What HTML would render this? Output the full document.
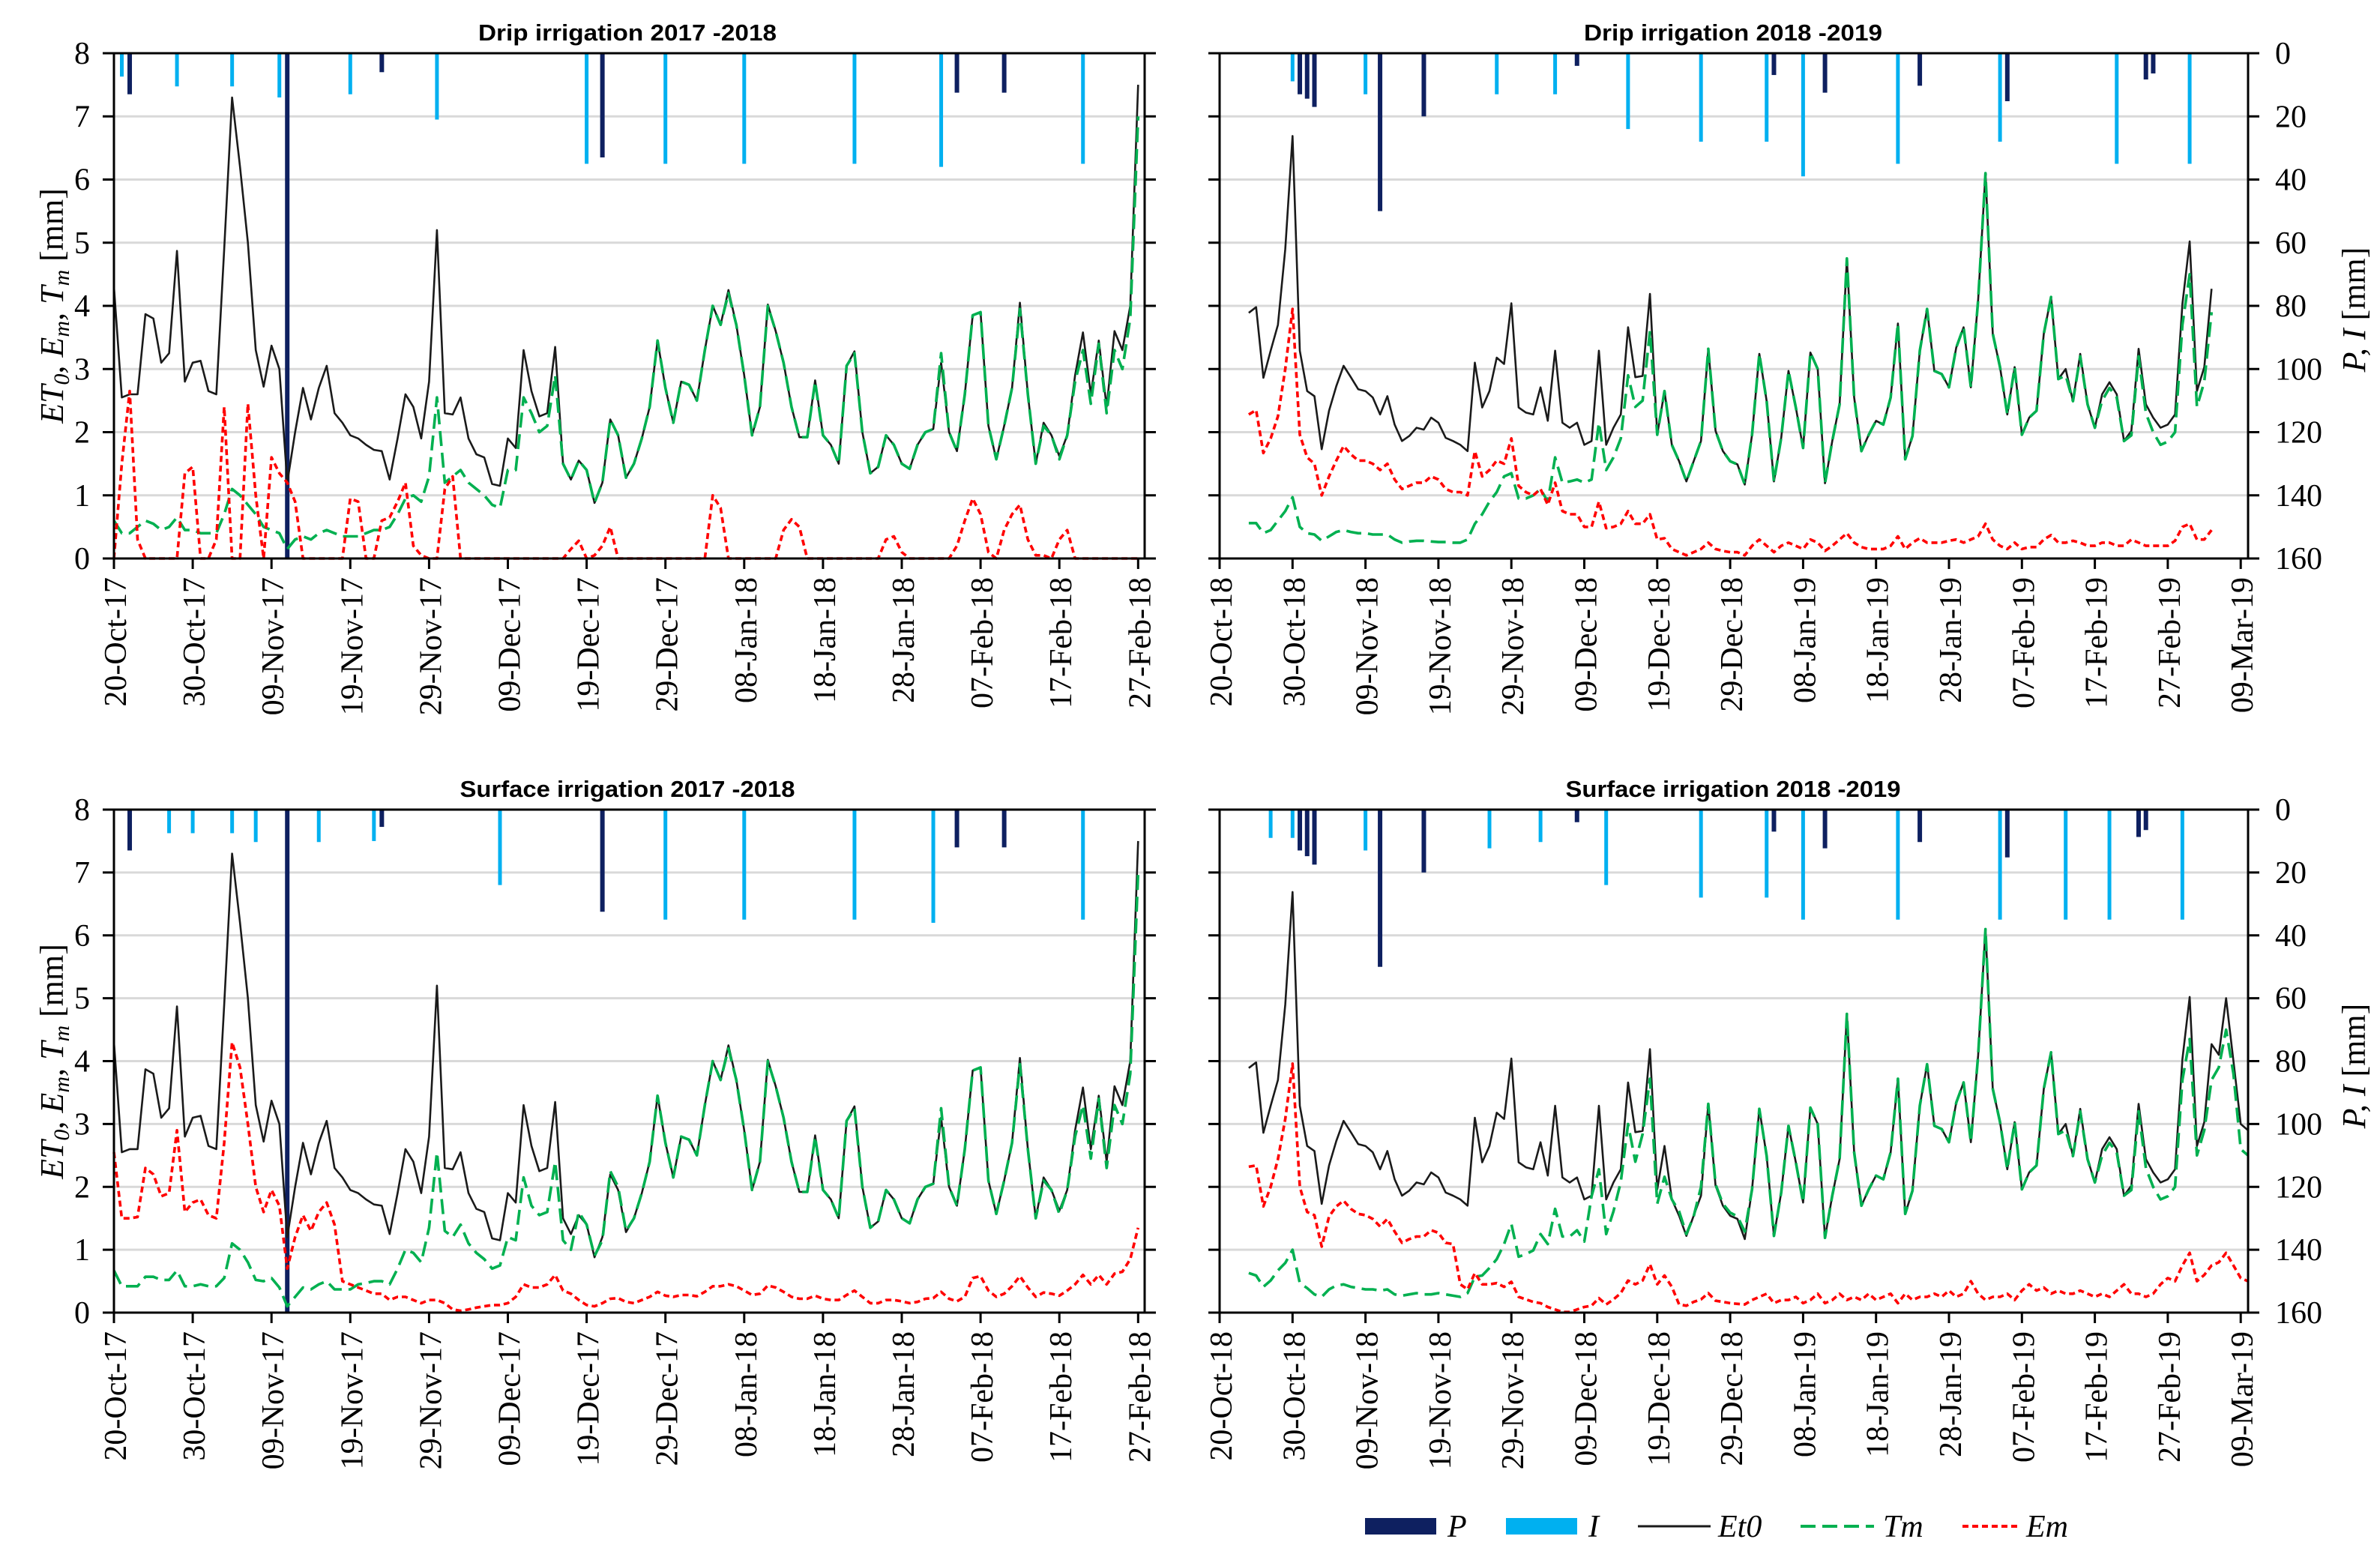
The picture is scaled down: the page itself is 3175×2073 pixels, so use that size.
<!DOCTYPE html>
<html><head><meta charset="utf-8"><title>Evapotranspiration charts</title>
<style>
html,body{margin:0;padding:0;background:#fff;}
svg{display:block;}
text{font-family:"Liberation Serif",serif;fill:#000;}
.ttl{font-family:"Liberation Sans",sans-serif;font-weight:bold;font-size:31px;}
</style></head>
<body>
<svg id="chart" width="3175" height="2073" viewBox="0 0 3175 2073" xmlns="http://www.w3.org/2000/svg"></svg>
<script>
// ---------- data ----------
const leftDates = ['20-Oct-17','30-Oct-17','09-Nov-17','19-Nov-17','29-Nov-17','09-Dec-17','19-Dec-17','29-Dec-17','08-Jan-18','18-Jan-18','28-Jan-18','07-Feb-18','17-Feb-18','27-Feb-18'];
const rightDates = ['20-Oct-18','30-Oct-18','09-Nov-18','19-Nov-18','29-Nov-18','09-Dec-18','19-Dec-18','29-Dec-18','08-Jan-19','18-Jan-19','28-Jan-19','07-Feb-19','17-Feb-19','27-Feb-19','09-Mar-19'];
const etTicks = ['0','1','2','3','4','5','6','7','8'];
const piTicks = ['0','20','40','60','80','100','120','140','160'];

// Season 2017-2018 (day 0 = 20-Oct-17)
const et0Left = [4.3,2.55,2.6,2.6,3.87,3.8,3.1,3.25,4.87,2.8,3.1,3.13,2.65,2.6,4.9,7.3,6.2,5.0,3.3,2.72,3.37,3.0,1.2,2.0,2.7,2.2,2.7,3.05,2.3,2.15,1.95,1.9,1.8,1.72,1.7,1.25,1.9,2.6,2.4,1.9,2.8,5.2,2.3,2.28,2.55,1.9,1.65,1.6,1.18,1.15,1.9,1.75,3.3,2.65,2.25,2.3,3.35,1.5,1.25,1.55,1.4,0.88,1.2,2.2,1.95,1.28,1.5,1.9,2.4,3.45,2.7,2.15,2.8,2.75,2.5,3.3,4.0,3.7,4.25,3.7,2.9,1.95,2.4,4.02,3.6,3.1,2.4,1.92,1.92,2.82,1.95,1.8,1.5,3.05,3.28,2.0,1.35,1.45,1.95,1.8,1.5,1.42,1.8,2.0,2.05,3.1,2.0,1.7,2.6,3.85,3.9,2.1,1.57,2.1,2.7,4.05,2.6,1.5,2.15,1.95,1.62,1.95,2.9,3.58,2.6,3.45,2.4,3.6,3.3,4.0,7.5];
const tmDripLeft = [0.6,0.4,0.4,0.5,0.6,0.55,0.45,0.5,0.65,0.45,0.45,0.4,0.4,0.4,0.7,1.1,1.0,0.85,0.7,0.5,0.45,0.4,0.15,0.3,0.35,0.3,0.4,0.45,0.4,0.35,0.35,0.35,0.4,0.45,0.45,0.5,0.7,0.95,1.0,0.9,1.3,2.55,1.2,1.3,1.4,1.2,1.1,1.0,0.85,0.8,1.4,1.4,2.55,2.3,2.0,2.1,2.9,
 1.5,1.25,1.55,1.4,0.88,1.2,2.2,1.95,1.28,1.5,1.9,2.4,3.45,2.7,2.15,2.8,2.75,2.5,3.3,4.0,3.7,4.2,3.7,2.9,1.95,2.4,4.0,3.6,3.1,2.4,1.92,1.92,2.8,1.95,1.8,1.5,3.05,3.25,2.0,1.35,1.45,1.95,1.8,1.5,1.42,1.8,2.0,2.05,3.25,2.0,1.7,2.6,3.85,3.9,2.1,1.57,2.1,2.7,3.95,2.6,1.5,2.1,1.95,1.57,1.95,2.8,3.3,2.45,3.4,2.3,3.3,3.0,3.8,7.0];
const emDripLeft = [0,1.5,2.65,0.3,0,0,0,0,0,1.35,1.45,0,0,0.3,2.4,0,0,2.45,1.0,0,1.6,1.35,1.2,0.9,0,0,0,0,0,0,0.95,0.9,0,0,0.6,0.65,0.9,1.2,0.2,0.05,0,0,1.1,1.3,0,0,0,0,0,0,0,0,0,0,0,0,0,0,0.15,0.28,0,0.05,0.2,0.5,0,0,0,0,0,0,0,0,0,0,0,0,1.0,0.8,0,0,0,0,0,0,0,0.45,0.62,0.5,0,0,0,0,0,0,0,0,0,0,0.3,0.35,0.1,0,0,0,0,0,0,0.2,0.6,0.95,0.7,0.1,0,0.45,0.7,0.85,0.3,0.05,0.05,0,0.3,0.45,0,0,0,0,0,0,0,0,0];
const tmSurfLeft = [0.67,0.42,0.42,0.42,0.57,0.57,0.52,0.52,0.67,0.42,0.42,0.45,0.42,0.42,0.55,1.1,1.0,0.8,0.52,0.5,0.55,0.4,0.1,0.25,0.4,0.37,0.45,0.5,0.37,0.37,0.37,0.45,0.47,0.5,0.5,0.45,0.7,1.0,0.95,0.8,1.35,2.55,1.3,1.2,1.4,1.1,0.95,0.85,0.7,0.75,1.2,1.15,2.15,1.7,1.55,1.6,2.4,1.15,1.0,1.6,1.4,0.9,1.15,2.25,2.0,1.3,
 1.5,1.9,2.4,3.45,2.7,2.15,2.8,2.75,2.5,3.3,4.0,3.7,4.2,3.7,2.9,1.95,2.4,4.0,3.6,3.1,2.4,1.92,1.92,2.8,1.95,1.8,1.5,3.05,3.25,2.0,1.35,1.45,1.95,1.8,1.5,1.42,1.8,2.0,2.05,3.25,2.0,1.7,2.6,3.85,3.9,2.1,1.57,2.1,2.7,3.95,2.6,1.5,2.1,1.95,1.57,1.95,2.8,3.3,2.45,3.4,2.3,3.3,3.0,3.8,7.0];
const emSurfLeft = [2.55,1.5,1.5,1.52,2.3,2.2,1.85,1.9,2.9,1.6,1.75,1.8,1.55,1.5,2.7,4.3,3.9,3.0,2.0,1.6,1.95,1.7,0.7,1.2,1.55,1.3,1.6,1.75,1.4,0.5,0.45,0.4,0.35,0.3,0.3,0.2,0.25,0.25,0.2,0.15,0.2,0.2,0.15,0.05,0.03,0.05,0.08,0.1,0.12,0.12,0.15,0.25,0.45,0.4,0.4,0.45,0.6,0.35,0.3,0.2,0.12,0.1,0.15,0.22,
 0.23,0.17,0.15,0.2,0.25,0.33,0.27,0.25,0.28,0.28,0.26,0.33,0.42,0.42,0.45,0.42,0.35,0.28,0.3,0.43,0.4,0.33,0.25,0.22,0.22,0.27,0.22,0.2,0.2,0.28,0.35,0.25,0.15,0.15,0.2,0.2,0.18,0.15,0.17,0.22,0.23,0.33,0.22,0.18,0.25,0.55,0.58,0.35,0.25,0.3,0.42,0.58,0.4,0.25,0.32,0.3,0.27,0.35,0.45,0.6,0.45,0.6,0.45,0.62,0.65,0.85,1.35];

// Season 2018-2019 (series start at day 4 = 24-Oct-18)
const et0DripRight = [3.89,3.98,2.86,3.29,3.7,4.9,6.69,3.29,2.65,2.57,1.73,2.34,2.73,3.05,2.87,2.68,2.65,2.55,2.28,2.57,2.12,1.86,1.94,2.07,2.04,2.23,2.15,1.91,1.86,1.8,1.7,3.1,2.39,2.65,3.18,3.08,4.04,2.39,2.31,2.28,2.71,2.18,3.29,2.15,2.07,2.15,1.8,1.86,3.29,1.8,2.07,2.28,3.66,2.87,2.89,4.19,1.96,2.65,1.8,1.54,1.22,1.54,1.86,3.32,2.02,1.7,1.54,1.49,1.17,
 1.96,3.24,2.49,1.22,1.91,2.97,2.39,1.75,3.26,3.0,1.19,1.86,2.44,4.75,2.55,1.7,1.96,2.18,2.12,2.55,3.72,1.57,1.94,3.29,3.95,2.97,2.92,2.71,3.34,3.66,2.71,4.09,6.1,3.56,3.03,2.28,3.03,1.96,2.23,2.34,3.56,4.14,2.84,3.0,2.49,3.24,2.44,2.07,2.6,2.79,2.6,1.86,2.02,3.32,2.44,2.23,2.07,2.12,2.28,4.03,5.02,2.65,3.03,4.27];
const tmDripRight = [0.56,0.56,0.4,0.45,0.6,0.75,0.97,0.5,0.4,0.38,0.28,0.35,0.42,0.45,0.42,0.4,0.4,0.38,0.38,0.38,0.3,0.25,0.27,0.28,0.28,0.27,0.26,0.26,0.25,0.25,0.3,0.55,0.7,0.9,1.05,1.3,1.35,0.95,0.95,1.0,1.1,0.9,1.6,1.2,1.22,1.25,1.2,1.25,2.15,1.4,1.6,1.9,2.9,2.4,2.5,3.6,1.96,2.65,1.8,
 1.54,1.22,1.54,1.86,3.32,2.02,1.7,1.54,1.49,1.17,
 1.96,3.24,2.49,1.22,1.91,2.97,2.39,1.75,3.26,3.0,1.19,1.86,2.44,4.75,2.55,1.7,1.96,2.18,2.12,2.55,3.72,1.57,1.94,3.29,3.95,2.97,2.92,2.71,3.34,3.66,2.71,4.09,6.1,3.56,3.03,2.28,3.03,1.96,2.23,2.34,3.56,4.14,2.84,2.9,2.49,3.2,2.44,2.07,2.5,2.7,2.55,1.86,1.95,3.2,2.3,2.0,1.8,1.85,2.0,3.7,4.5,2.4,2.8,3.9];
const emDripRight = [2.28,2.35,1.67,1.9,2.25,3.0,3.95,1.96,1.6,1.5,1.0,1.3,1.55,1.78,1.65,1.55,1.55,1.5,1.4,1.5,1.25,1.1,1.15,1.2,1.2,1.3,1.25,1.1,1.05,1.05,1.0,1.7,1.3,1.4,1.55,1.5,1.9,1.15,1.05,1.0,1.1,0.85,1.2,0.75,0.7,0.7,0.5,0.5,0.9,0.48,0.5,0.55,0.75,0.55,0.55,0.7,0.3,0.32,0.15,0.1,0.05,0.1,0.15,0.25,0.15,0.12,0.1,0.1,0.05,
 0.2,0.3,0.2,0.1,0.2,0.25,0.2,0.15,0.3,0.25,0.12,0.2,0.3,0.4,0.25,0.18,0.15,0.15,0.15,0.2,0.35,0.15,0.25,0.32,0.25,0.25,0.25,0.28,0.3,0.25,0.3,0.35,0.55,0.3,0.2,0.15,0.25,0.15,0.18,0.18,0.3,0.37,0.25,0.25,0.28,0.25,0.2,0.2,0.25,0.25,0.2,0.2,0.3,0.25,0.2,0.2,0.2,0.2,0.28,0.5,0.55,0.3,0.3,0.45];
const et0SurfRight = [3.89,3.98,2.86,3.29,3.7,4.9,6.69,3.29,2.65,2.57,1.73,2.34,2.73,3.05,2.87,2.68,2.65,2.55,2.28,2.57,2.12,1.86,1.94,2.07,2.04,2.23,2.15,1.91,1.86,1.8,1.7,3.1,2.39,2.65,3.18,3.08,4.04,2.39,2.31,2.28,2.71,2.18,3.29,2.15,2.07,2.15,1.8,1.86,3.29,1.8,2.07,2.28,3.66,2.87,2.89,4.19,1.96,2.65,1.8,1.54,1.22,1.54,1.86,3.32,2.02,1.7,1.54,1.49,1.17,
 1.96,3.24,2.49,1.22,1.91,2.97,2.39,1.75,3.26,3.0,1.19,1.86,2.44,4.75,2.55,1.7,1.96,2.18,2.12,2.55,3.72,1.57,1.94,3.29,3.95,2.97,2.92,2.71,3.34,3.66,2.71,4.09,6.1,3.56,3.03,2.28,3.03,1.96,2.23,2.34,3.56,4.14,2.84,3.0,2.49,3.24,2.44,2.07,2.6,2.79,2.6,1.86,2.02,3.32,2.44,2.23,2.07,2.12,2.28,4.03,5.02,2.65,3.03,4.27,4.1,5.0,4.0,3.0,2.9];
const tmSurfRight = [0.63,0.59,0.41,0.51,0.67,0.79,1.0,0.47,0.39,0.29,0.25,0.37,0.43,0.45,0.41,0.39,0.37,0.37,0.35,0.37,0.29,0.27,0.29,0.31,0.29,0.29,0.31,0.29,0.27,0.25,0.31,0.57,0.59,0.71,0.85,1.09,1.41,0.89,0.93,0.99,1.25,1.09,1.65,1.21,1.21,1.31,1.13,1.85,2.28,1.25,1.61,2.08,3.0,2.4,2.84,3.72,1.73,2.16,1.8,1.61,1.25,1.53,2.0,3.32,2.04,1.73,1.59,1.53,1.29,
 1.96,3.24,2.49,1.22,1.91,2.97,2.39,1.75,3.26,3.0,1.19,1.86,2.44,4.75,2.55,1.7,1.96,2.18,2.12,2.55,3.72,1.57,1.94,3.29,3.95,2.97,2.92,2.71,3.34,3.66,2.71,4.09,6.1,3.56,3.03,2.28,3.03,1.96,2.23,2.34,3.56,4.14,2.84,2.9,2.49,3.2,2.44,2.07,2.5,2.7,2.55,1.86,1.95,3.2,2.3,2.0,1.8,1.85,2.0,3.7,4.35,2.5,2.9,3.7,3.9,4.5,3.8,2.6,2.5];
const emSurfRight = [2.32,2.34,1.69,2.0,2.44,3.08,3.96,2.0,1.6,1.55,1.05,1.53,1.69,1.78,1.65,1.57,1.55,1.49,1.37,1.49,1.29,1.11,1.17,1.21,1.21,1.31,1.27,1.11,1.09,0.45,0.37,0.63,0.45,0.45,0.47,0.41,0.49,0.25,0.21,0.17,0.15,0.09,0.05,0.01,0.01,0.05,0.09,0.11,0.23,0.13,0.21,0.31,0.51,0.45,0.51,0.77,0.45,0.59,0.41,0.13,0.11,0.17,0.21,0.31,0.19,0.17,0.15,0.14,0.13,
 0.2,0.25,0.3,0.15,0.2,0.2,0.25,0.15,0.2,0.3,0.15,0.2,0.3,0.2,0.25,0.2,0.3,0.2,0.25,0.3,0.15,0.3,0.2,0.25,0.25,0.3,0.25,0.35,0.25,0.3,0.5,0.3,0.2,0.25,0.25,0.3,0.2,0.35,0.45,0.35,0.4,0.3,0.35,0.3,0.3,0.35,0.3,0.25,0.3,0.25,0.35,0.45,0.3,0.3,0.25,0.3,0.45,0.55,0.5,0.75,0.95,0.5,0.6,0.75,0.8,0.95,0.75,0.55,0.5];

// bars: precipitation P and irrigation I (mm), by day index
const pDaysDL = [2,22,34,62,107,113];           const pMmDL = [13,160,6,33,12.5,12.5];
const iDaysDL = [1,8,15,21,30,41,60,70,80,94,105,123]; const iMmDL = [7.4,10.5,10.5,14,13,21,35,35,35,35,36,35];
const pDaysSL = [2,22,34,62,107,113];           const pMmSL = [13,160,5.5,32.5,12,12];
const iDaysSL = [7,10,15,18,26,33,49,70,80,94,104,123]; const iMmSL = [7.5,7.5,7.5,10.3,10.3,10,24,35,35,35,36,35];
const pDaysDR = [11,12,13,22,28,49,76,83,96,108,127,128]; const pMmDR = [13,14.4,17,50,20,4,6.9,12.5,10.3,15.2,8.3,6.4];
const iDaysDR = [10,20,38,46,56,66,75,80,93,107,123,133]; const iMmDR = [8.9,13,13,13,24,28,28,39,35,28,35,35];
const pDaysSR = [11,12,13,22,28,49,76,83,96,108,126,127]; const pMmSR = [13,14.8,17.5,50,20,4,7,12.3,10.3,15.2,8.7,6.5];
const iDaysSR = [7,10,20,37,44,53,66,75,80,93,107,116,122,132]; const iMmSR = [9,9,13,12.3,10.3,24,28,28,35,35,35,35,35,35];

// ---------- drawing ----------
const NS = 'http://www.w3.org/2000/svg';
const svg = document.getElementById('chart');
function mk(tag, attrs, parent) {
  const e = document.createElementNS(NS, tag);
  for (const k in attrs) e.setAttribute(k, attrs[k]);
  (parent || svg).appendChild(e);
  return e;
}

function drawPanel(p) {
  const g = mk('g', {});
  
  
  const xS = d => p.x0 + d * p.ppd;
  const yS = v => p.yB - v * (p.yB - p.yT) / 8;
  const mmS = mm => p.yT + mm * (p.yB - p.yT) / 160;

  // gridlines
  for (let i = 1; i < 8; i++) {
    const gl = mk('line', {x1: p.x0, x2: p.xR, y1: yS(i), y2: yS(i), stroke: '#d9d9d9', 'stroke-width': 3}, g);
    
    
  }
  // bars
  function bars(days, mms, color, w, nm) {
    for (let i = 0; i < days.length; i++) {
      const b = mk('line', {x1: xS(days[i]), x2: xS(days[i]), y1: p.yT, y2: Math.min(mmS(mms[i]), p.yB), stroke: color, 'stroke-width': w}, g);
      
      
    }
  }
  bars(p.iDays, p.iMm, '#00b0f0', 5, 'irrigation-bar');
  bars(p.pDays, p.pMm, '#0e2060', 6, 'precipitation-bar');

  function series(vals, start, stroke, w, dash, nm) {
    let d = '';
    vals.forEach((v, i) => { d += (i ? 'L' : 'M') + xS(start + i).toFixed(1) + ',' + yS(v).toFixed(1); });
    const a = {d: d, fill: 'none', stroke: stroke, 'stroke-width': w, 'stroke-linejoin': 'round'};
    if (dash) a['stroke-dasharray'] = dash;
    const e = mk('path', a, g);
    
    
  }
  series(p.et0, p.start, '#1a1a1a', 2.6, null, 'et0-line');
  series(p.tm, p.start, '#00b050', 3.6, '20,9', 'tm-line');
  series(p.em, p.start, '#ff0000', 3.6, '8,5', 'em-line');

  // frame
  const ax = [[p.x0 - 15, p.yT, p.xR + 15, p.yT], [p.x0 - 15, p.yB, p.xR, p.yB], [p.x0, p.yT, p.x0, p.yB + 14], [p.xR, p.yT, p.xR, p.yB]];
  ax.forEach(a => {
    const l = mk('line', {x1: a[0], y1: a[1], x2: a[2], y2: a[3], stroke: '#000', 'stroke-width': 3}, g);
    
    
  });
  for (let i = 0; i <= 8; i++) {
    const t1 = mk('line', {x1: p.x0 - 15, x2: p.x0, y1: yS(i), y2: yS(i), stroke: '#000', 'stroke-width': 3}, g);
    
    
    const t2 = mk('line', {x1: p.xR, x2: p.xR + 15, y1: yS(i), y2: yS(i), stroke: '#000', 'stroke-width': 3}, g);
    
    
    if (p.leftLabels) {
      const tl = mk('text', {x: p.x0 - 32, y: yS(i) + 14, 'text-anchor': 'end', 'font-size': 42}, g);
      tl.textContent = etTicks[i];
      
      
    }
    if (p.rightLabels) {
      const tr = mk('text', {x: p.xR + 36, y: mmS(i * 20) + 14, 'text-anchor': 'start', 'font-size': 42}, g);
      tr.textContent = piTicks[i];
      
      
    }
  }
  p.dates.forEach((lab, i) => {
    const x = xS(i * 10);
    const t = mk('line', {x1: x, x2: x, y1: p.yB, y2: p.yB + 14, stroke: '#000', 'stroke-width': 3}, g);
    
    
    const tx = mk('text', {transform: 'translate(' + (x + 16) + ',' + (p.yB + 25) + ') rotate(-90)', 'text-anchor': 'end', 'font-size': 42}, g);
    tx.textContent = lab;
    
    
  });
  const tt = mk('text', {x: p.tx, y: p.yT - 17, 'text-anchor': 'middle', class: 'ttl', textLength: p.tw, lengthAdjust: 'spacingAndGlyphs'}, g);
  tt.textContent = p.title;
  
  
}

drawPanel({name: 'panel-drip-2017-2018', title: 'Drip irrigation 2017 -2018', tx: 837, tw: 398, x0: 152, ppd: 10.51, xR: 1527, yT: 71, yB: 745, start: 0, dates: leftDates, leftLabels: true, rightLabels: false,
  et0: et0Left, tm: tmDripLeft, em: emDripLeft, pDays: pDaysDL, pMm: pMmDL, iDays: iDaysDL, iMm: iMmDL});
drawPanel({name: 'panel-drip-2018-2019', title: 'Drip irrigation 2018 -2019', tx: 2312, tw: 398, x0: 1627, ppd: 9.73, xR: 2999, yT: 71, yB: 745, start: 4, dates: rightDates, leftLabels: false, rightLabels: true,
  et0: et0DripRight, tm: tmDripRight, em: emDripRight, pDays: pDaysDR, pMm: pMmDR, iDays: iDaysDR, iMm: iMmDR});
drawPanel({name: 'panel-surface-2017-2018', title: 'Surface irrigation 2017 -2018', tx: 837, tw: 447, x0: 152, ppd: 10.51, xR: 1527, yT: 1080, yB: 1751, start: 0, dates: leftDates, leftLabels: true, rightLabels: false,
  et0: et0Left, tm: tmSurfLeft, em: emSurfLeft, pDays: pDaysSL, pMm: pMmSL, iDays: iDaysSL, iMm: iMmSL});
drawPanel({name: 'panel-surface-2018-2019', title: 'Surface irrigation 2018 -2019', tx: 2312, tw: 447, x0: 1627, ppd: 9.73, xR: 2999, yT: 1080, yB: 1751, start: 4, dates: rightDates, leftLabels: false, rightLabels: true,
  et0: et0SurfRight, tm: tmSurfRight, em: emSurfRight, pDays: pDaysSR, pMm: pMmSR, iDays: iDaysSR, iMm: iMmSR});

// axis titles
[408, 1416].forEach(cy => {
  const t = mk('text', {transform: 'translate(84,' + cy + ') rotate(-90)', 'text-anchor': 'middle', 'font-size': 44, 'font-style': 'italic'});
  t.innerHTML = 'ET<tspan font-size="30" dy="8">0</tspan><tspan dy="-8">, E</tspan><tspan font-size="30" dy="8">m</tspan><tspan dy="-8">, T</tspan><tspan font-size="30" dy="8">m</tspan><tspan dy="-8" font-style="normal"> [mm]</tspan>';
  
  
});
[413, 1422].forEach(cy => {
  const t = mk('text', {transform: 'translate(3155,' + cy + ') rotate(-90)', 'text-anchor': 'middle', 'font-size': 44, 'font-style': 'italic'});
  t.innerHTML = 'P, I <tspan font-style="normal">[mm]</tspan>';
  
  
});

// legend
const lg = mk('g', {});


const r1 = mk('rect', {x: 1821, y: 2025, width: 95, height: 22, fill: '#0e2060'}, lg);


const r2 = mk('rect', {x: 2009, y: 2025, width: 95, height: 22, fill: '#00b0f0'}, lg);


const l1 = mk('line', {x1: 2185, x2: 2282, y1: 2036, y2: 2036, stroke: '#1a1a1a', 'stroke-width': 3}, lg);


const l2 = mk('line', {x1: 2402, x2: 2500, y1: 2036, y2: 2036, stroke: '#00b050', 'stroke-width': 4, 'stroke-dasharray': '20,9'}, lg);


const l3 = mk('line', {x1: 2618, x2: 2692, y1: 2036, y2: 2036, stroke: '#ff0000', 'stroke-width': 4, 'stroke-dasharray': '8,5'}, lg);


const legendLabels = [['P', 1931], ['I', 2119], ['Et0', 2292], ['Tm', 2512], ['Em', 2703]];
legendLabels.forEach(a => {
  const t = mk('text', {x: a[1], y: 2050, 'font-size': 42, 'font-style': 'italic'}, lg);
  t.textContent = a[0];
  
  
});
</script>
</body></html>
